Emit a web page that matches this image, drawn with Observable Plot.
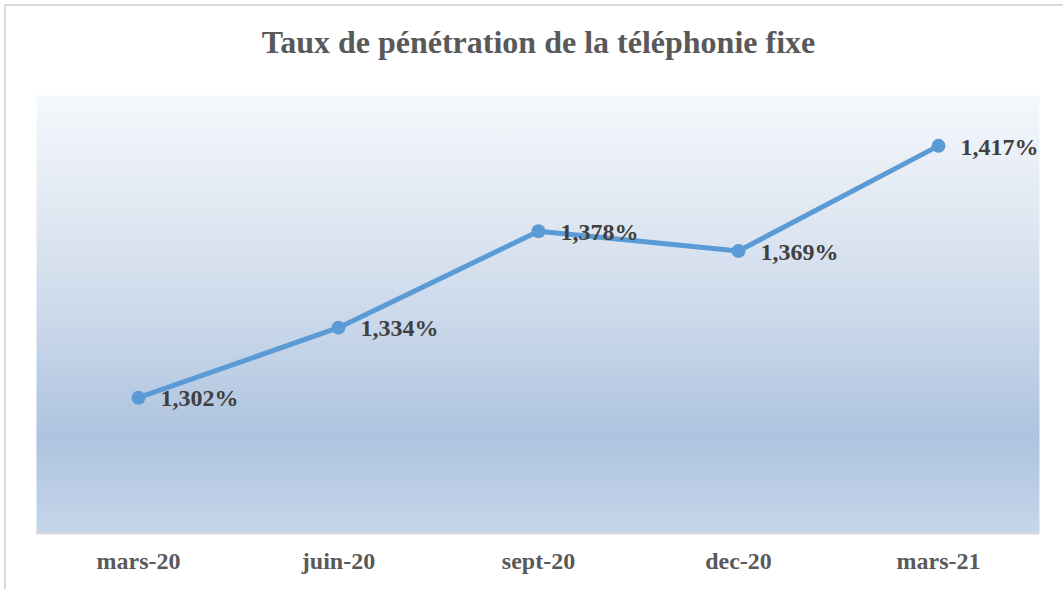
<!DOCTYPE html>
<html>
<head>
<meta charset="utf-8">
<script src="https://cdn.jsdelivr.net/npm/d3@7"></script>
<script src="https://cdn.jsdelivr.net/npm/@observablehq/plot@0.6"></script>
<style>
  html, body { margin: 0; padding: 0; background: #ffffff; }
  #wrap { position: relative; width: 1063px; height: 589px; overflow: hidden; background: #ffffff; }
  #border { position: absolute; left: 4px; top: 4px; width: 1100px; height: 700px;
            border-top: 2px solid #d9d9d9; border-left: 2px solid #d9d9d9; pointer-events: none; }
  #title { position: relative; height: 63px; padding-top: 27px; padding-left: 37px; padding-right: 23px;
           font-family: "Liberation Serif", "Times New Roman", serif; font-weight: bold;
           font-size: 32px; line-height: 30px; color: #595959; text-align: center; white-space: nowrap; }
  #chart svg { display: block; }
</style>
</head>
<body>
<div id="wrap">
  <div id="border"></div>
  <div id="title">Taux de pénétration de la téléphonie fixe</div>
  <div id="chart"></div>
</div>
<script>
const periods = ["mars-20", "juin-20", "sept-20", "dec-20", "mars-21"];
const rates = [1.302, 1.334, 1.378, 1.369, 1.417];
const yDomain = [1.24, 1.44];

const data = periods.map((p, i) => ({period: p, rate: rates[i]}));
const fmt = v => d3.format(".3f")(v).replace(".", ",") + "%";

const plot = Plot.plot({
  width: 1063,
  height: 499,
  marginTop: 5,
  marginBottom: 56,
  marginLeft: 36,
  marginRight: 24,
  style: {fontFamily: "'Liberation Serif', 'Times New Roman', serif", fontWeight: "bold", fontSize: "24px", background: "transparent"},
  x: {type: "point", domain: periods, padding: 0.5, label: null},
  y: {domain: yDomain, axis: null},
  marks: [
    Plot.frame({fill: "url(#bgGrad)", stroke: "none"}),
    Plot.ruleY([yDomain[0]], {stroke: "#d9d9d9", strokeWidth: 2}),
    Plot.axisX({tickSize: 0, tickPadding: 18, fontSize: 24, fontWeight: "bold", fill: "#595959", label: null}),
    Plot.line(data, {x: "period", y: "rate", stroke: "#5b9bd5", strokeWidth: 5, strokeLinecap: "round", strokeLinejoin: "round"}),
    Plot.dot(data, {x: "period", y: "rate", r: 7, fill: "#5b9bd5", stroke: "none"}),
    Plot.text(data, {x: "period", y: "rate", text: d => fmt(d.rate), textAnchor: "start", dx: 22, dy: 1,
      fontSize: 24, fontWeight: "bold", fill: "#404040"})
  ]
});

const svg = d3.select(plot);
const defs = svg.insert("defs", ":first-child");
const grad = defs.append("linearGradient").attr("id", "bgGrad")
  .attr("x1", 0).attr("y1", 0).attr("x2", 0).attr("y2", 1);
[[0, "#f5f8fc"], [0.25, "#e2e9f3"], [0.5, "#ccd9eb"], [0.78, "#adc3df"], [1, "#c6d6ea"]]
  .forEach(([o, c]) => grad.append("stop").attr("offset", o).attr("stop-color", c));

document.getElementById("chart").appendChild(plot);
</script>
</body>
</html>
